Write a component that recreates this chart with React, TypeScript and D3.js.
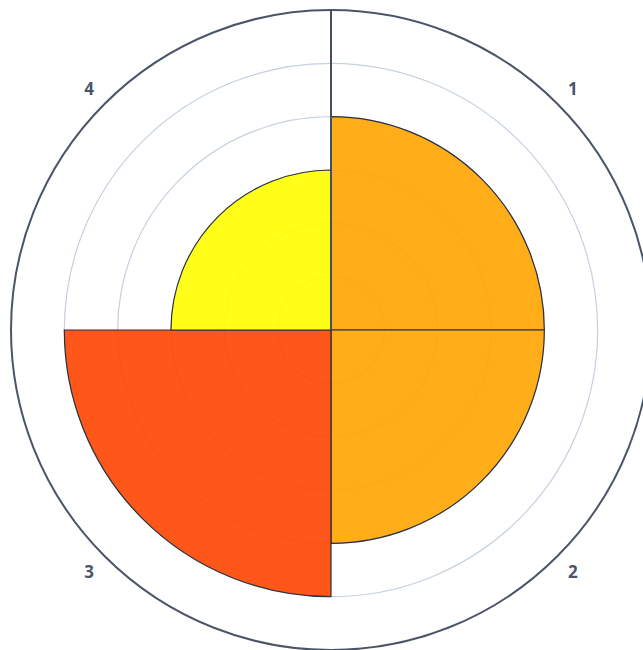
import React, { useRef, useEffect } from 'react';
import * as d3 from 'd3';

const categories = ['1', '2', '3', '4'];
const values = [4, 4, 5, 3];
const colors = ['orange', 'orange', 'orangered', 'yellow'];
const radialTicks = [1, 2, 3, 4, 5];
const radialMax = 6;

const App = () => {
  const svgRef = useRef<SVGSVGElement>(null);

  useEffect(() => {
    const width = 643;
    const height = 650;
    const cx = 331;
    const cy = 330;
    const outer = 320;

    const svg = d3.select(svgRef.current)
      .attr('width', width)
      .attr('height', height);
    svg.selectAll('*').remove();

    const g = svg.append('g').attr('transform', `translate(${cx},${cy})`);

    const r = d3.scaleLinear().domain([0, radialMax]).range([0, outer]);
    const theta = d3.scaleBand<string>()
      .domain(categories)
      .range([0, 2 * Math.PI])
      .padding(0);

    // Grid circles
    g.selectAll('circle.grid')
      .data(radialTicks)
      .join('circle')
      .attr('class', 'grid')
      .attr('r', d => r(d))
      .attr('fill', 'none')
      .attr('stroke', '#c5d1df')
      .attr('stroke-width', 1.2);

    // Bars
    const arc = d3.arc<any>()
      .innerRadius(0)
      .outerRadius(d => r(d.value))
      .startAngle(d => theta(d.cat)!)
      .endAngle(d => theta(d.cat)! + theta.bandwidth());

    g.selectAll('path.bar')
      .data(categories.map((c, i) => ({ cat: c, value: values[i], color: colors[i] })))
      .join('path')
      .attr('class', 'bar')
      .attr('d', arc)
      .attr('fill', d => d.color)
      .attr('fill-opacity', 0.9)
      .attr('stroke', '#2a3140')
      .attr('stroke-width', 1.2);

    // Radial axis line
    g.append('line')
      .attr('x1', 0).attr('y1', 0)
      .attr('x2', 0).attr('y2', -outer)
      .attr('stroke', '#444e5f')
      .attr('stroke-width', 2);

    // Outer circle
    g.append('circle')
      .attr('r', outer)
      .attr('fill', 'none')
      .attr('stroke', '#4b5568')
      .attr('stroke-width', 2);

    // Angular labels
    g.selectAll('text.lab')
      .data(categories)
      .join('text')
      .attr('class', 'lab')
      .attr('x', d => Math.sin(theta(d)! + theta.bandwidth() / 2) * (outer + 22))
      .attr('y', d => -Math.cos(theta(d)! + theta.bandwidth() / 2) * (outer + 22))
      .attr('text-anchor', 'middle')
      .attr('dominant-baseline', 'central')
      .style('font-family', '"Open Sans", sans-serif')
      .style('font-size', '17px')
      .style('font-weight', 700)
      .attr('fill', '#4a5568')
      .text(d => d);
  }, []);

  return (
    <div style={{ position: 'absolute', top: 0, left: 0 }}>
      <svg ref={svgRef} style={{ display: 'block' }}></svg>
    </div>
  );
};

export default App;
